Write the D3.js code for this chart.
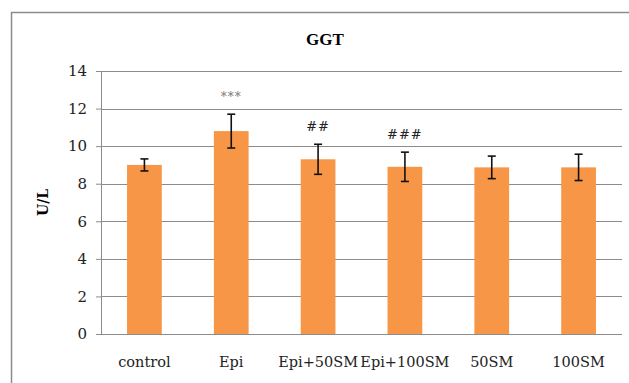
<!DOCTYPE html>
<html>
<head>
<meta charset="utf-8">
<script src="https://cdn.jsdelivr.net/npm/d3@7"></script>
<style>
  body { margin: 0; background: #fff; }
</style>
</head>
<body>
<div id="chart"></div>
<script>
// data
const groups = ["control", "Epi", "Epi+50SM", "Epi+100SM", "50SM", "100SM"];
const means = [9.0, 10.8, 9.3, 8.9, 8.87, 8.87];
const errs = [0.32, 0.9, 0.8, 0.78, 0.6, 0.7];
const marks = ["", "***", "##", "###", "", ""];
const yTicks = [0, 2, 4, 6, 8, 10, 12, 14];

const width = 629, height = 383;
const margin = { top: 71, right: 7, bottom: 49, left: 101 };

const svg = d3.select("#chart").append("svg")
  .attr("width", width)
  .attr("height", height);

// chart frame
svg.append("rect")
  .attr("x", 11.5).attr("y", 12.5)
  .attr("width", 640).attr("height", 400)
  .attr("fill", "none")
  .attr("stroke", "#8c8c8c")
  .attr("stroke-width", 1.5);

const x = d3.scaleBand()
  .domain(groups)
  .range([margin.left, width - margin.right])
  .paddingInner(0.6)
  .paddingOuter(0.3);

const y = d3.scaleLinear()
  .domain([0, 14])
  .range([height - margin.bottom, margin.top]);

// gridlines + y axis
const gy = svg.append("g")
  .attr("transform", `translate(${margin.left},0)`)
  .call(d3.axisLeft(y).tickValues(yTicks).tickSize(5).tickPadding(9))
  .call(g => g.select(".domain").remove());
gy.selectAll(".tick line").attr("stroke", "#8c8c8c");
gy.selectAll(".tick text")
  .attr("font-family", "DejaVu Serif")
  .attr("font-size", 15)
  .attr("fill", "#222");

svg.append("g")
  .selectAll("line")
  .data(yTicks)
  .join("line")
  .attr("x1", margin.left)
  .attr("x2", width - margin.right)
  .attr("y1", d => Math.round(y(d)) + 0.5)
  .attr("y2", d => Math.round(y(d)) + 0.5)
  .attr("stroke", "#8c8c8c")
  .attr("stroke-width", 1);

// vertical axis line
svg.append("line")
  .attr("x1", margin.left + 0.5).attr("x2", margin.left + 0.5)
  .attr("y1", y(14)).attr("y2", y(0))
  .attr("stroke", "#8c8c8c");

// bars
svg.append("g")
  .selectAll("rect")
  .data(groups)
  .join("rect")
  .attr("x", d => x(d))
  .attr("y", (d, i) => y(means[i]))
  .attr("width", x.bandwidth())
  .attr("height", (d, i) => y(0) - y(means[i]))
  .attr("fill", "#f79646");

// error bars
const eb = svg.append("g")
  .attr("stroke", "#111")
  .attr("stroke-width", 1.6)
  .selectAll("g")
  .data(groups)
  .join("g")
  .attr("transform", d => `translate(${x(d) + x.bandwidth() / 2},0)`);
eb.append("line")
  .attr("y1", (d, i) => y(means[i] + errs[i]))
  .attr("y2", (d, i) => y(means[i] - errs[i]));
eb.append("line")
  .attr("x1", -4).attr("x2", 4)
  .attr("y1", (d, i) => y(means[i] + errs[i]))
  .attr("y2", (d, i) => y(means[i] + errs[i]));
eb.append("line")
  .attr("x1", -4).attr("x2", 4)
  .attr("y1", (d, i) => y(means[i] - errs[i]))
  .attr("y2", (d, i) => y(means[i] - errs[i]));

// significance marks
svg.append("g")
  .selectAll("text")
  .data(groups)
  .join("text")
  .attr("x", d => x(d) + x.bandwidth() / 2)
  .attr("y", (d, i) => y(means[i] + errs[i]) - 13)
  .attr("text-anchor", "middle")
  .attr("font-family", "DejaVu Serif")
  .attr("font-size", (d, i) => marks[i] === "***" ? 12 : 13)
  .attr("fill", (d, i) => marks[i] === "***" ? "#777" : "#222")
  .attr("letter-spacing", 1)
  .text((d, i) => marks[i]);

// x labels
svg.append("g")
  .selectAll("text")
  .data(groups)
  .join("text")
  .attr("x", d => x(d) + x.bandwidth() / 2)
  .attr("y", 367)
  .attr("text-anchor", "middle")
  .attr("font-family", "DejaVu Serif")
  .attr("font-size", 14.5)
  .attr("fill", "#222")
  .text(d => d);

// title
svg.append("text")
  .attr("x", 325)
  .attr("y", 45)
  .attr("text-anchor", "middle")
  .attr("font-family", "Liberation Serif")
  .attr("font-weight", "bold")
  .attr("font-size", 17)
  .text("GGT");

// y axis title
svg.append("text")
  .attr("transform", `translate(48,${(y(0) + y(14)) / 2}) rotate(-90)`)
  .attr("text-anchor", "middle")
  .attr("font-family", "DejaVu Serif")
  .attr("font-weight", "bold")
  .attr("font-size", 14)
  .text("U/L");
</script>
</body>
</html>
